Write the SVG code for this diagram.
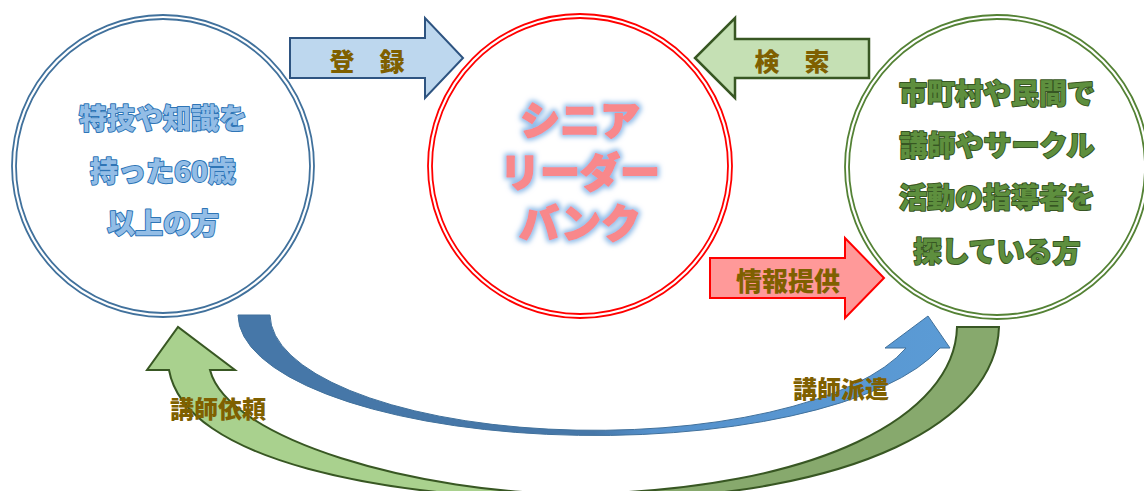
<svg xmlns="http://www.w3.org/2000/svg" width="1144" height="491" viewBox="0 0 1144 491">
<style>
.lbl{font-family:"Noto Sans CJK JP","Noto Sans CJK SC",sans-serif;font-weight:900;fill:#7f6000;text-anchor:middle;dominant-baseline:central}
.ctxt{font-family:"Noto Sans CJK JP","Noto Sans CJK SC",sans-serif;font-weight:900;text-anchor:middle;dominant-baseline:central;paint-order:stroke;stroke-linejoin:round}
.lt{font-size:28px;fill:#93bde6;stroke:#2e75b6;stroke-width:2}
.rt{font-size:28px;fill:#5e8f3e;stroke:#375623;stroke-width:2}
.mt{font-size:40px;fill:#f8888b;stroke:#f8888b;stroke-width:1.5}
.ring{fill:none;stroke-width:1.8}
</style>
<defs>
<filter id="glow" x="-20%" y="-30%" width="140%" height="160%">
<feMorphology in="SourceAlpha" operator="dilate" radius="2" result="d"/>
<feGaussianBlur in="d" stdDeviation="2.5" result="b"/>
<feFlood flood-color="#8fbbe8"/>
<feComposite in2="b" operator="in" result="g"/>
<feMerge><feMergeNode in="g"/><feMergeNode in="SourceGraphic"/></feMerge>
</filter>
<linearGradient id="blueGrad" gradientUnits="userSpaceOnUse" x1="238" y1="0" x2="950" y2="0">
<stop offset="0" stop-color="#4677a8"/>
<stop offset="0.5" stop-color="#4677a8"/>
<stop offset="0.58" stop-color="#5591cc"/>
<stop offset="1" stop-color="#5b9bd5"/>
</linearGradient>
<linearGradient id="greenGrad" gradientUnits="userSpaceOnUse" x1="560" y1="0" x2="600" y2="0">
<stop offset="0" stop-color="#a9d18e"/>
<stop offset="1" stop-color="#87a96d"/>
</linearGradient>
</defs>
<rect x="0" y="0" width="1144" height="491" fill="#ffffff"/>

<g id="connectors">
<g id="arrow-touroku">
<path d="M290,38 L425,38 L425,18 L463,58 L425,98 L425,78 L290,78 Z" fill="#bdd7ee" stroke="#2e5481" stroke-width="2" stroke-linejoin="miter"/>
<text class="lbl" x="367" y="60" font-size="25">登　録</text>
</g>
<g id="arrow-kensaku">
<path d="M869,39 L735,39 L735,18 L695,58 L735,98 L735,78 L869,78 Z" fill="#c5e0b4" stroke="#385723" stroke-width="2.5"/>
<text class="lbl" x="792" y="60" font-size="25">検　索</text>
</g>
<g id="arrow-joho">
<path d="M710,258 L845,258 L845,238 L884,278 L845,318 L845,298 L710,298 Z" fill="#ff9999" stroke="#ff0000" stroke-width="2"/>
<text class="lbl" x="788" y="279" font-size="26">情報提供</text>
</g>
<g id="arrow-haken">
<path d="M238,315 A358,121 0 0 0 940,348 L950,348 L928,316 L885,348 L906,348 A325,116 0 0 1 270,315 Z" fill="url(#blueGrad)" stroke="#41719c" stroke-width="1"/>
<text class="lbl" x="841" y="387" font-size="24">講師派遣</text>
</g>
<g id="arrow-irai">
<path d="M999,327 C996,420 860,497 600,500 C380,500 185,460 169,370 L147,370 L178,327 L235,370 L210,370 C228,440 420,494 577,494 C820,490 955,415 957,327 Z" fill="url(#greenGrad)" stroke="#385723" stroke-width="2"/>
<text class="lbl" x="218" y="407" font-size="24">講師依頼</text>
</g>
</g>

<g id="node-senior">
<circle class="ring" cx="163" cy="166" r="151" stroke="#41719c"/>
<circle class="ring" cx="163" cy="166" r="147" stroke="#41719c"/>
<text class="ctxt lt" x="163" y="117">特技や知識を</text>
<text class="ctxt lt" x="163" y="170">持った60歳</text>
<text class="ctxt lt" x="163" y="222">以上の方</text>
</g>

<g id="node-bank">
<circle class="ring" cx="580" cy="166" r="152" stroke="#ff0000"/>
<circle class="ring" cx="580" cy="166" r="148" stroke="#ff0000"/>
<g filter="url(#glow)">
<text class="ctxt mt" x="580" y="118">シニア</text>
<text class="ctxt mt" x="580" y="170">リーダー</text>
<text class="ctxt mt" x="580" y="221">バンク</text>
</g>
</g>

<g id="node-seeker">
<circle class="ring" cx="997" cy="167" r="152" stroke="#548235"/>
<circle class="ring" cx="997" cy="167" r="148" stroke="#548235"/>
<text class="ctxt rt" x="997" y="92">市町村や民間で</text>
<text class="ctxt rt" x="997" y="144">講師やサークル</text>
<text class="ctxt rt" x="997" y="196">活動の指導者を</text>
<text class="ctxt rt" x="997" y="250">探している方</text>
</g>
</svg>
